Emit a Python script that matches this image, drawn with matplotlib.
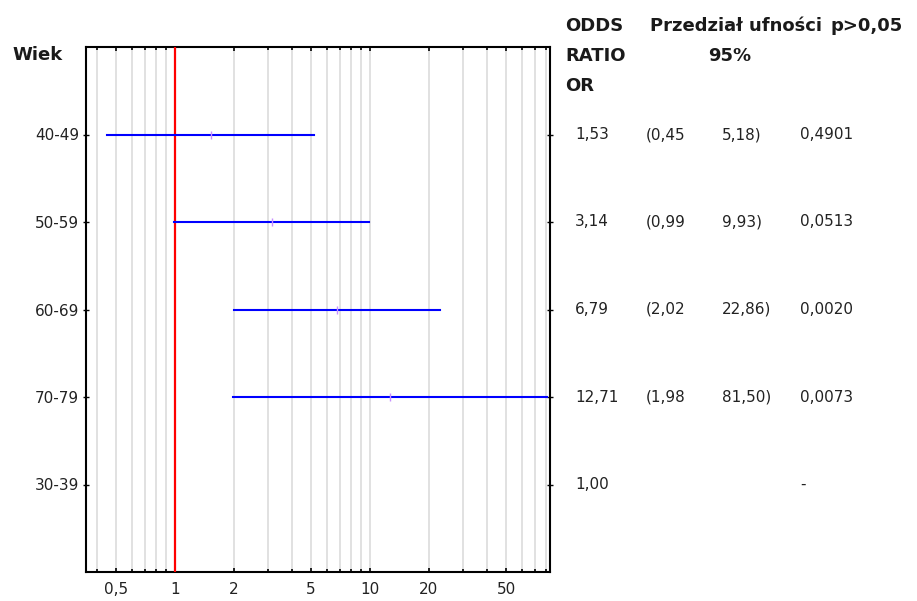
import numpy as np
from matplotlib import pyplot as plt
from matplotlib import ticker, transforms

# dane z wykresu
groups = ['40-49', '50-59', '60-69', '70-79', '30-39']
odds = [1.53, 3.14, 6.79, 12.71, 1.00]
ci_low = [0.45, 0.99, 2.02, 1.98, None]
ci_high = [5.18, 9.93, 22.86, 81.50, None]
p_vals = ['0,4901', '0,0513', '0,0020', '0,0073', '-']
xtick_vals = [0.5, 1, 2, 5, 10, 20, 50]
xtick_labels = ['0,5', '1', '2', '5', '10', '20', '50']

plt.rcParams['font.family'] = ['DejaVu Sans']
plt.rcParams['font.size'] = 11

fs = 11
fig = plt.figure(figsize=(9.17, 6.01), dpi=100)
ax = fig.add_axes([86/917, 1-572/601, 464/917, 525/601])

ypos = np.arange(1, len(groups)+1)

ax.set_xscale('log')
ax.set_xlim(0.35, 84)
ax.set_ylim(len(groups)+1, 0)

ax.xaxis.set_major_locator(ticker.FixedLocator(xtick_vals))
ax.xaxis.set_major_formatter(ticker.FixedFormatter(xtick_labels))
ax.xaxis.set_minor_locator(ticker.LogLocator(base=10, subs=np.arange(2, 10)))
ax.xaxis.set_minor_formatter(ticker.NullFormatter())
ax.grid(True, which='both', axis='x', color='#d9d9d9', lw=1.1)
ax.set_axisbelow(True)

ax.tick_params(axis='x', which='both', direction='in', top=True, bottom=True,
               length=3, width=1.2, labelsize=fs, pad=7, labelcolor='#222222')
ax.tick_params(axis='x', which='minor', length=2)
ax.set_yticks(ypos)
ax.set_yticklabels(groups)
ax.tick_params(axis='y', direction='inout', left=True, right=True,
               length=4, width=1, labelsize=fs, pad=3, labelcolor='#222222')
for s in ax.spines.values():
    s.set_linewidth(1.5)

ax.axvline(1, color='red', lw=1.6, zorder=3)

for y, o, lo, hi in zip(ypos, odds, ci_low, ci_high):
    if lo is None:
        continue
    ax.plot([lo, hi], [y, y], color='blue', lw=1.5, zorder=4, clip_on=False)
    ax.plot([o], [y], marker='|', color='#c890ff', ms=6, mew=1, zorder=5)

# tabela po prawej
trans = transforms.blended_transform_factory(fig.transFigure, ax.transData)
fmt = lambda v: ('%.2f' % v).replace('.', ',')
cell = dict(transform=trans, va='center', fontsize=fs, color='#222222')
for y, o, lo, hi, p in zip(ypos, odds, ci_low, ci_high, p_vals):
    fig.text(575/917, y, fmt(o), **cell)
    if lo is not None:
        fig.text(646/917, y, '(' + fmt(lo), **cell)
        fig.text(722/917, y, fmt(hi) + ')', **cell)
    fig.text(800/917, y, p, **cell)

hdr = dict(fontsize=13, fontweight='bold', va='center', color='#1a1a1a')
fig.text(565/917, 1-26/601, 'ODDS', **hdr)
fig.text(565/917, 1-56/601, 'RATIO', **hdr)
fig.text(565/917, 1-86/601, 'OR', **hdr)
fig.text(650/917, 1-26/601, 'Przedział ufności', **hdr)
fig.text(730/917, 1-56/601, '95%', ha='center', **hdr)
fig.text(830/917, 1-26/601, 'p>0,05', **hdr)
fig.text(12/917, 1-55/601, 'Wiek', **hdr)

fig.savefig('out.png', dpi=100)
